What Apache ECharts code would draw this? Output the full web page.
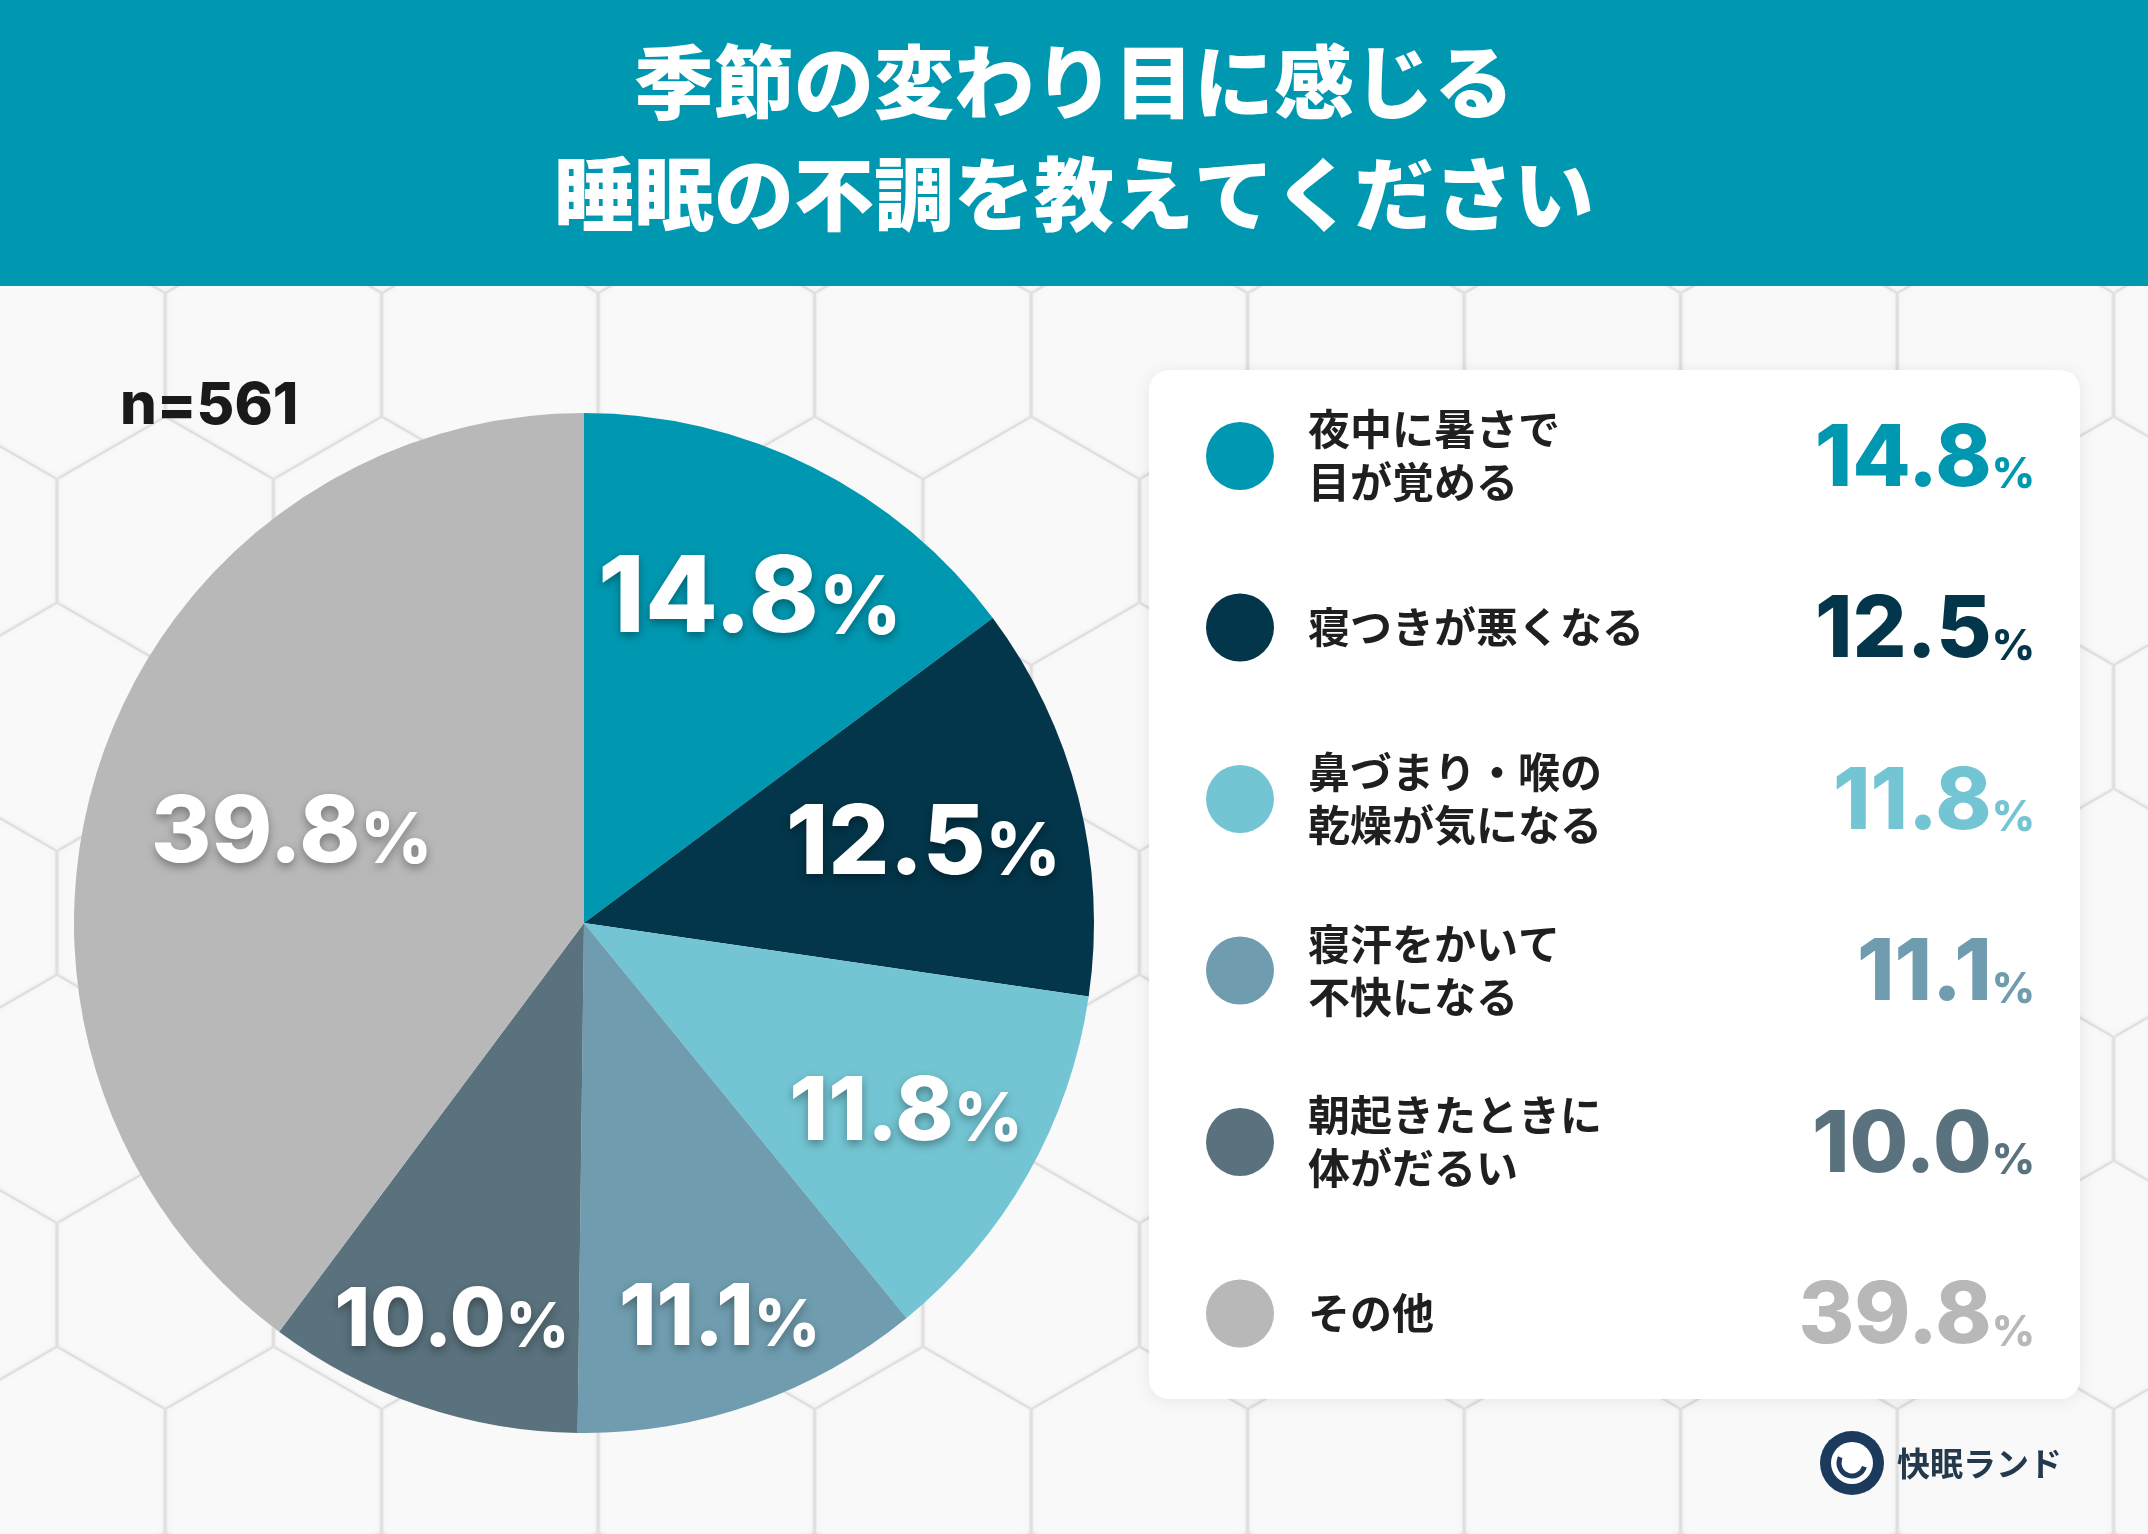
<!DOCTYPE html>
<html>
<head>
<meta charset="utf-8">
<script src="https://cdn.jsdelivr.net/npm/echarts@6/dist/echarts.min.js"></script>
<style>
html,body{margin:0;padding:0;background:#ededed;}
#chart{width:2148px;height:1534px;}
</style>
</head>
<body>
<div id="chart"></div>
<script>
// ---- data ----
const titleText = '季節の変わり目に感じる\n睡眠の不調を教えてください';
const sampleNote = 'n=561';
const categories = ['夜中に暑さで目が覚める', '寝つきが悪くなる', '鼻づまり・喉の乾燥が気になる', '寝汗をかいて不快になる', '朝起きたときに体がだるい', 'その他'];
const legendLabels = ['夜中に暑さで\n目が覚める', '寝つきが悪くなる', '鼻づまり・喉の\n乾燥が気になる', '寝汗をかいて\n不快になる', '朝起きたときに\n体がだるい', 'その他'];
const values = [14.8, 12.5, 11.8, 11.1, 10.0, 39.8];
const brandText = '快眠ランド';

// ---- styles / layout ----
const COLORS = ['#0098b1', '#03364a', '#73c5d3', '#6f9daf', '#5a727d', '#b8b8b8'];
const LABEL_SIZE = [106, 96, 88, 85, 81, 92];
const LABEL_DIST = [367, 347, 367, 408, 409, 305];
const CENTER = [584, 923];
const R = 510;
const NUM_FONT = 'Inter, "Noto Sans", sans-serif';
const JP_FONT = '"Noto Sans CJK JP", "Noto Sans", sans-serif';
const C_MID = 0.363;

function pctRich(fn, fp, color, shadow) {
  const hp = fn - 2 * C_MID * (fn - fp);
  const base = {color: color, fill: color, fontFamily: NUM_FONT, fontWeight: 800};
  if (shadow) {
    Object.assign(base, {textShadowColor: 'rgba(0,0,0,0.35)', textShadowBlur: 10, textShadowOffsetY: 4});
  }
  return {
    n: Object.assign({}, base, {fontSize: fn, height: fn, lineHeight: fn}),
    p: Object.assign({}, base, {fontSize: fp, height: hp, verticalAlign: 'bottom'})
  };
}

const chart = echarts.init(document.getElementById('chart'), null, {renderer: 'canvas'});

const pieData = values.map((v, i) => ({value: v, name: categories[i], itemStyle: {color: COLORS[i]}}));

const series = [{
  type: 'pie',
  center: CENTER,
  radius: [0, R],
  startAngle: 90,
  clockwise: true,
  silent: true,
  label: {show: false},
  labelLine: {show: false},
  emphasis: {disabled: true},
  data: pieData
}];

values.forEach((v, i) => {
  const d = LABEL_DIST[i];
  series.push({
    type: 'pie',
    center: CENTER,
    radius: [2 * d - R, R],
    startAngle: 90,
    clockwise: true,
    silent: true,
    z: 3,
    legendHoverLink: false,
    itemStyle: {color: 'rgba(0,0,0,0)'},
    emphasis: {disabled: true},
    labelLine: {show: false},
    label: {
      show: true,
      position: 'inside',
      offset: [0, 8],
      formatter: p => p.dataIndex === i ? '{n|' + values[p.dataIndex].toFixed(1) + '}{p|%}' : '',
      rich: pctRich(LABEL_SIZE[i], LABEL_SIZE[i] * 0.76, '#ffffff', true)
    },
    data: values.map((vv, j) => ({value: vv, name: categories[j]}))
  });
});

// legend geometry
const LEG_TOP = 403;
const LEG_ITEM_H = 106;
const LEG_STRIDE = 171.5;

const graphics = [];
// hexagon background
const S = 124.5, W = 216.5, ROW = 186;
function hexPts(cx, cy, s) {
  const h = s * Math.sqrt(3) / 2;
  return [[cx, cy - s], [cx + h, cy - s / 2], [cx + h, cy + s / 2], [cx, cy + s], [cx - h, cy + s / 2], [cx - h, cy - s / 2]];
}
for (let j = -1; j <= 7; j++) {
  for (let k = -1; k <= 10; k++) {
    const cx = 57 + W * k + (Math.abs(j) % 2 === 1 ? W / 2 : 0);
    const cy = 355 + ROW * j;
    graphics.push({
      type: 'polygon', z: 0, silent: true,
      shape: {points: hexPts(cx, cy, S - 1.6)},
      style: {fill: '#f9f9f9', stroke: '#eeeeee', lineWidth: 1, shadowBlur: 6, shadowColor: 'rgba(0,0,0,0.08)'}
    });
  }
}
// header band
graphics.push({type: 'rect', z: 1, silent: true, shape: {x: 0, y: 0, width: 2148, height: 286}, style: {fill: '#0098b1'}});
// legend panel
graphics.push({
  type: 'rect', z: 1, silent: true,
  shape: {x: 1149, y: 370, width: 931, height: 1029, r: 20},
  style: {fill: '#ffffff', shadowBlur: 18, shadowColor: 'rgba(0,0,0,0.08)', shadowOffsetY: 2}
});
// sample size
graphics.push({
  type: 'text', z: 5, silent: true, x: 120, y: 407,
  style: {text: sampleNote, fontSize: 58, fontWeight: 800, fontFamily: NUM_FONT, fill: '#1a1a1a',
    align: 'left', textAlign: 'left', verticalAlign: 'middle', textVerticalAlign: 'middle'}
});
// legend values
values.forEach((v, i) => {
  const cy = LEG_TOP + LEG_ITEM_H / 2 + LEG_STRIDE * i + 4;
  graphics.push({
    type: 'text', z: 5, silent: true, x: 2035, y: cy,
    style: {
      text: '{n|' + v.toFixed(1) + '}{p|%}',
      align: 'right', textAlign: 'right', verticalAlign: 'middle', textVerticalAlign: 'middle',
      fill: COLORS[i],
      rich: pctRich(85, 42, COLORS[i], false)
    }
  });
});
// brand logo
graphics.push({type: 'circle', z: 5, silent: true, shape: {cx: 1852, cy: 1463, r: 32}, style: {fill: '#1c3a5c'}});
graphics.push({type: 'circle', z: 5, silent: true, shape: {cx: 1852, cy: 1463, r: 21}, style: {fill: '#ffffff'}});
graphics.push({type: 'arc', z: 5, silent: true, shape: {cx: 1852, cy: 1463, r: 13, startAngle: 0.3, endAngle: 3.6}, style: {stroke: '#1c3a5c', lineWidth: 5, fill: null}});
graphics.push({
  type: 'text', z: 5, silent: true, x: 1897, y: 1463,
  style: {text: brandText, fontSize: 33, fontWeight: 'bold', fontFamily: JP_FONT, fill: '#25394d',
    align: 'left', textAlign: 'left', verticalAlign: 'middle', textVerticalAlign: 'middle'}
});

const option = {
  animation: false,
  backgroundColor: '#ededed',
  title: {
    text: titleText,
    left: 'center',
    top: 26,
    padding: 0,
    textStyle: {color: '#ffffff', fontSize: 80, lineHeight: 111.5, fontWeight: 900, fontFamily: JP_FONT}
  },
  legend: {
    orient: 'vertical',
    left: 1206,
    top: LEG_TOP,
    padding: 0,
    itemWidth: 68,
    itemHeight: 68,
    itemGap: LEG_STRIDE - LEG_ITEM_H,
    icon: 'circle',
    selectedMode: false,
    data: categories.map((c, i) => legendLabels[i].indexOf('\n') < 0
      ? {name: c, textStyle: {padding: [26.5, 0, 26.5, 29]}}
      : {name: c}),
    formatter: name => legendLabels[categories.indexOf(name)],
    textStyle: {fontSize: 42, lineHeight: 53, fontWeight: 'bold', color: '#1f1f1f', fontFamily: JP_FONT, padding: [0, 0, 0, 29]}
  },
  graphic: {elements: graphics},
  series: series
};
chart.setOption(option);
</script>
</body>
</html>
